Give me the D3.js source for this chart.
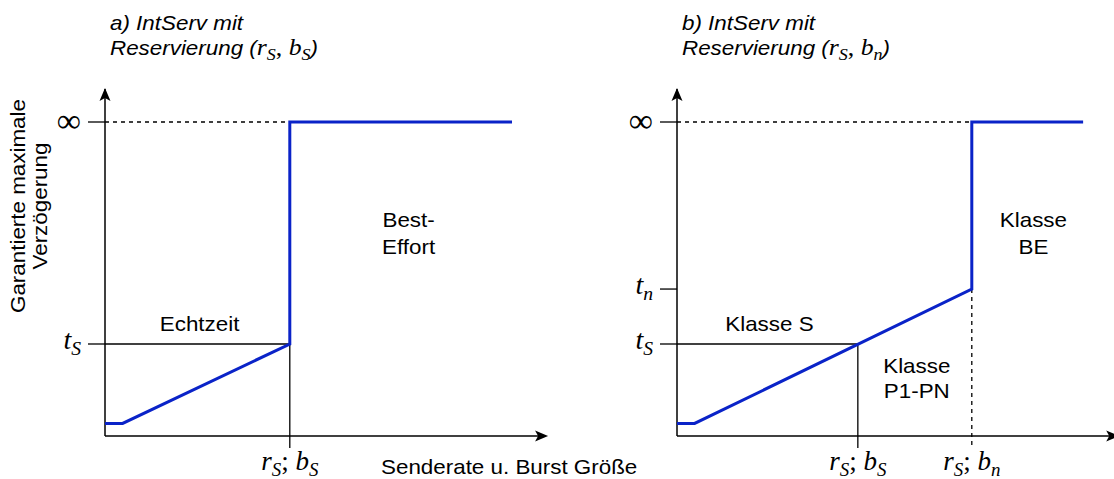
<!DOCTYPE html>
<html>
<head>
<meta charset="utf-8">
<script src="https://cdn.jsdelivr.net/npm/d3@7"></script>
<style>
  body { margin: 0; background: #fff; }
  text { font-family: "Liberation Sans", Arial, sans-serif; fill: #000; }
  .math { font-family: "Liberation Serif", "Times New Roman", serif; font-style: italic; }
  .up { font-family: "Liberation Serif", "Times New Roman", serif; font-style: normal; }
</style>
</head>
<body>
<script>
// values, both axes in abstract units (0..100, 100 = infinity)
const curveAx = [0, 4, 42, 42, 92.5];
const curveAy = [4, 4, 29.3, 100, 100];
const curveBx = [0, 4, 67, 67, 92.3];
const curveBy = [4, 4, 46.8, 100, 100];

const yTicksA = [100, 29.3];
const yLabelsA = [["∞", ""], ["t", "S"]];
const yTicksB = [100, 46.8, 29.3];
const yLabelsB = [["∞", ""], ["t", "n"], ["t", "S"]];

const xTicksA = [42];
const xLabelsA = [[["r", "S"], ["; ", ""], ["b", "S"]]];
const xTicksB = [41.1, 67];
const xLabelsB = [[["r", "S"], ["; ", ""], ["b", "S"]], [["r", "S"], ["; ", ""], ["b", "n"]]];

const titleA = ["a) IntServ mit", "Reservierung ("];
const titleMathA = [["r", "S"], [", ", ""], ["b", "S"]];
const titleB = ["b) IntServ mit", "Reservierung ("];
const titleMathB = [["r", "S"], [", ", ""], ["b", "n"]];

const yTitle = ["Garantierte maximale", "Verzögerung"];
const xTitle = "Senderate u. Burst Größe";

const blue = "#0a23c8";
const stretch = 1.12;
const fs = 20;

const width = 1114, height = 479;
const svg = d3.select("body").append("svg")
    .attr("width", width)
    .attr("height", height);

// math label: list of [base, subscript]
const mathText = (sel, parts, size) => {
    let back = 0;
    parts.forEach(([b, s]) => {
        const cls = /[a-z]/.test(b) ? "math" : "up";
        sel.append("tspan").attr("class", cls)
            .attr("dy", back ? -back : null)
            .style("font-size", size + "px").text(b);
        back = 0;
        if (s) {
            back = size * 0.22;
            sel.append("tspan").attr("class", "math")
                .style("font-size", (size * 0.7) + "px")
                .attr("dy", back).text(s);
        }
    });
    return back;
};

const sansText = (g, x, y, str, anchor = "middle", italic = false) =>
    g.append("text")
        .attr("transform", `translate(${x},${y}) scale(${stretch},1)`)
        .attr("text-anchor", anchor)
        .style("font-size", fs + "px")
        .style("font-style", italic ? "italic" : null)
        .text(str);

const arrow = (g, x, y, angle) =>
    g.append("path")
        .attr("d", "M0,0 L-5.5,13 L0,10 L5.5,13 Z")
        .attr("transform", `translate(${x},${y}) rotate(${angle})`)
        .attr("fill", "#000");

const drawPanel = (ox, opt) => {
    const x = d3.scaleLinear().domain([0, 100]).range([ox, ox + 440]);
    const y = d3.scaleLinear().domain([0, 100]).range([436, 122]);
    const g = svg.append("g");

    // axes
    g.append("line").attr("x1", x(0)).attr("x2", x(0)).attr("y1", y(0)).attr("y2", y(110.5))
        .attr("stroke", "#000").attr("stroke-width", 1.5);
    arrow(g, x(0), y(110.8), 0);
    g.append("line").attr("x1", x(0)).attr("x2", x(opt.xEnd) - 4).attr("y1", y(0)).attr("y2", y(0))
        .attr("stroke", "#000").attr("stroke-width", 1.5);
    arrow(g, x(opt.xEnd), y(0), 90);

    // y ticks
    opt.yTicks.forEach((v, i) => {
        g.append("line").attr("x1", x(0) - 17).attr("x2", x(0)).attr("y1", y(v)).attr("y2", y(v))
            .attr("stroke", "#000").attr("stroke-width", 1.3);
        const lab = g.append("text").attr("x", x(0) - 24).attr("y", y(v) + (v === 100 ? 10 : 5))
            .attr("text-anchor", "end");
        mathText(lab, [opt.yLabels[i]], v === 100 ? 34 : 28);
    });

    // guide lines
    opt.guides.forEach(d => {
        g.append("line")
            .attr("x1", x(d[0])).attr("y1", y(d[1])).attr("x2", x(d[2])).attr("y2", d[3] === null ? y(0) + 12 : y(d[3]))
            .attr("stroke", "#000").attr("stroke-width", 1.3)
            .attr("stroke-dasharray", d[4] ? "4,4" : null);
    });

    // x tick labels
    opt.xTicks.forEach((v, i) => {
        const lab = g.append("text").attr("x", x(v)).attr("y", 470).attr("text-anchor", "middle");
        mathText(lab, opt.xLabels[i], 27);
    });

    // curve
    const line = d3.line().x(d => x(d[0])).y(d => y(d[1]));
    g.append("path")
        .datum(d3.zip(opt.cx, opt.cy))
        .attr("d", line)
        .attr("fill", "none")
        .attr("stroke", blue)
        .attr("stroke-width", 3);

    // title
    sansText(g, ox + 5, 30, opt.title[0], "start", true);
    const t2 = sansText(g, ox + 5, 55, opt.title[1], "start", true);
    const back = mathText(t2, opt.titleMath, 23);
    t2.append("tspan").attr("dy", back ? -back : null).text(")");

    opt.notes.forEach(n => sansText(g, x(n[0]), y(n[1]), n[2]));
};

drawPanel(105, {
    xEnd: 100.7, cx: curveAx, cy: curveAy,
    yTicks: yTicksA, yLabels: yLabelsA, xTicks: xTicksA, xLabels: xLabelsA,
    title: titleA, titleMath: titleMathA,
    guides: [[0, 100, 42, 100, true], [0, 29.3, 42, 29.3, false], [42, 29.3, 42, null, false]],
    notes: [[21.5, 33.5, "Echtzeit"], [69, 66.5, "Best-"], [69, 58, "Effort"]]
});

drawPanel(677, {
    xEnd: 100.5, cx: curveBx, cy: curveBy,
    yTicks: yTicksB, yLabels: yLabelsB, xTicks: xTicksB, xLabels: xLabelsB,
    title: titleB, titleMath: titleMathB,
    guides: [[0, 100, 67, 100, true], [0, 29.3, 41.1, 29.3, false], [41.1, 29.3, 41.1, null, false],
             [67, 46.8, 67, null, true]],
    notes: [[21, 33.5, "Klasse S"], [54.5, 20, "Klasse"], [54.5, 12, "P1-PN"],
            [81, 66.5, "Klasse"], [81, 58, "BE"]]
});

// axis titles
const yt = svg.append("g").attr("transform", "translate(0,206) rotate(-90)");
yTitle.forEach((s, i) => yt.append("text")
    .attr("transform", `translate(0,${25 + i * 22}) scale(${stretch},1)`)
    .attr("text-anchor", "middle").style("font-size", fs + "px").text(s));
sansText(svg, 381, 474, xTitle, "start");
</script>
</body>
</html>
